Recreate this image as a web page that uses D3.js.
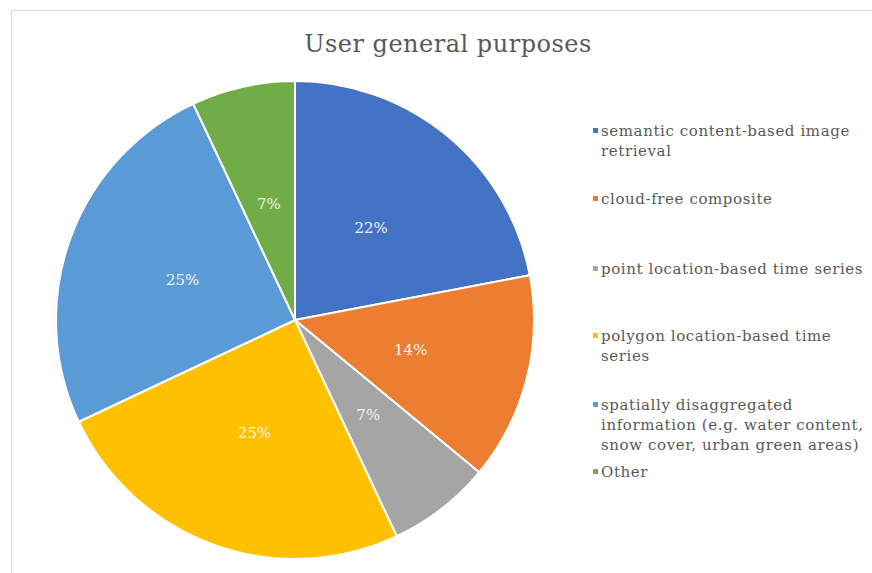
<!DOCTYPE html>
<html>
<head>
<meta charset="utf-8">
<script src="https://cdn.jsdelivr.net/npm/d3@7"></script>
<style>
  html, body { margin: 0; padding: 0; background: #fff; }
  svg { display: block; }
</style>
</head>
<body>
<svg id="chart" width="872" height="573"></svg>
<script>
// Survey answers: share of users per general purpose (percent)
const categories = [
  "semantic content-based image retrieval",
  "cloud-free composite",
  "point location-based time series",
  "polygon location-based time series",
  "spatially disaggregated information (e.g. water content, snow cover, urban green areas)",
  "Other"
];
const values = [22, 14, 7, 25, 25, 7];
// Legend entries as wrapped lines
const legendLines = [
  ["semantic content-based image", "retrieval"],
  ["cloud-free composite"],
  ["point location-based time series"],
  ["polygon location-based time", "series"],
  ["spatially disaggregated", "information (e.g. water content,", "snow cover, urban green areas)"],
  ["Other"]
];
const colors = ["#4472C4", "#ED7D31", "#A5A5A5", "#FFC000", "#5B9BD5", "#70AD47"];
const title = "User general purposes";

const svg = d3.select("#chart");
const font = "'DejaVu Serif', serif";

// Chart area frame
svg.append("rect")
  .attr("x", 11.5).attr("y", 10.5)
  .attr("width", 880).attr("height", 600)
  .attr("fill", "#fff")
  .attr("stroke", "#D9D9D9")
  .attr("stroke-width", 1);

// Title
svg.append("text")
  .attr("x", 448).attr("y", 52)
  .attr("text-anchor", "middle")
  .attr("font-family", font)
  .attr("font-size", 24)
  .attr("letter-spacing", 0.5)
  .attr("fill", "#595959")
  .text(title);

// Pie
const cx = 295, cy = 320, R = 239;
const data = categories.map((c, i) => ({ name: c, value: values[i], color: colors[i] }));
const pie = d3.pie().value(d => d.value).sort(null);
const arc = d3.arc().innerRadius(0).outerRadius(R);
const labelArc = d3.arc().innerRadius(R / 2).outerRadius(R / 2);

const g = svg.append("g").attr("transform", `translate(${cx},${cy})`);
const arcs = pie(data);

g.selectAll("path.slice")
  .data(arcs)
  .join("path")
  .attr("class", "slice")
  .attr("d", arc)
  .attr("fill", d => d.data.color)
  .attr("stroke", "#fff")
  .attr("stroke-width", 2)
  .attr("stroke-linejoin", "round");

g.selectAll("text.pct")
  .data(arcs)
  .join("text")
  .attr("class", "pct")
  .attr("transform", d => `translate(${labelArc.centroid(d)})`)
  .attr("text-anchor", "middle")
  .attr("dy", "0.35em")
  .attr("font-family", font)
  .attr("font-size", 15)
  .attr("fill", "#F2F2F2")
  .text(d => d3.format(".0f")(d.data.value) + "%");

// Legend
const legendX = 593;
const legendTops = [136, 204, 274, 341, 410, 477];
const lineH = 20;
const lg = svg.append("g");
legendLines.forEach((lines, i) => {
  const y0 = legendTops[i];
  lg.append("rect")
    .attr("x", legendX).attr("y", y0 - 8)
    .attr("width", 5).attr("height", 5)
    .attr("fill", colors[i]);
  const t = lg.append("text")
    .attr("x", legendX + 8).attr("y", y0)
    .attr("font-family", font)
    .attr("font-size", 15)
    .attr("letter-spacing", 0.6)
    .attr("fill", "#595959");
  lines.forEach((ln, j) => {
    t.append("tspan")
      .attr("x", legendX + 8)
      .attr("y", y0 + j * lineH)
      .text(ln);
  });
});
</script>
</body>
</html>
